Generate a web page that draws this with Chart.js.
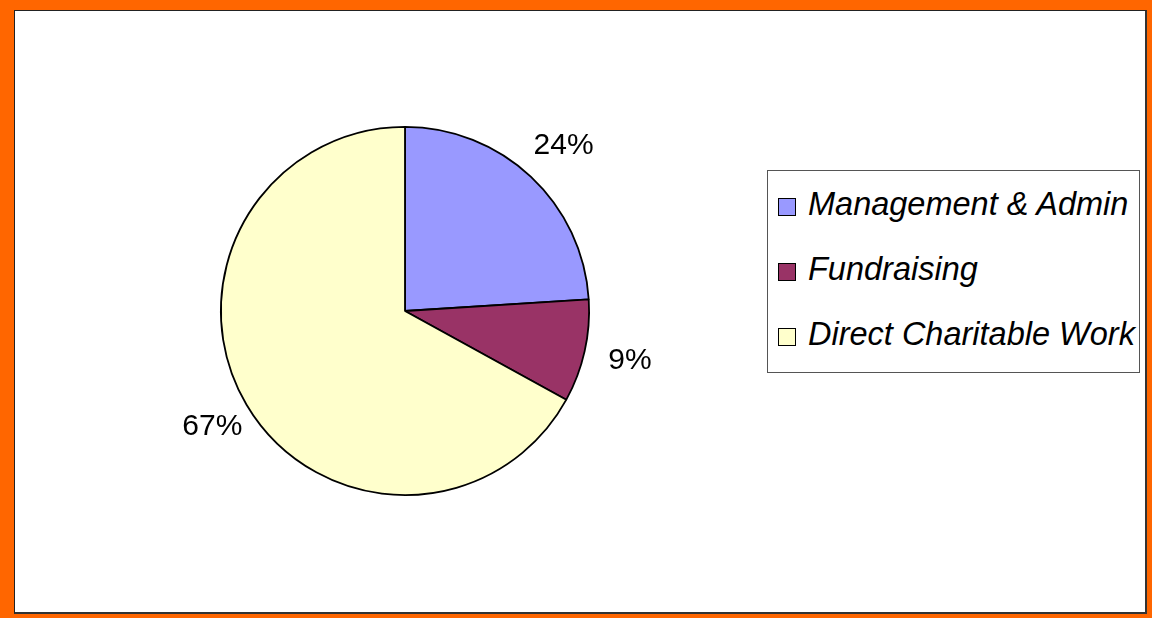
<!DOCTYPE html>
<html>
<head>
<meta charset="utf-8">
<script src="https://cdn.jsdelivr.net/npm/chart.js@4"></script>
<style>
  html, body { margin: 0; padding: 0; }
  body { width: 1152px; height: 618px; background: #FF6600; position: relative; overflow: hidden; font-family: "Liberation Sans", Arial, sans-serif; }
  #frame { position: absolute; left: 14px; top: 10px; width: 1130px; height: 601px; background: #fff; border: 1px solid #222; border-right: 2px solid #333; border-bottom: 2px solid #333; }
  #pieWrap { position: absolute; left: 155px; top: 61px; width: 500px; height: 500px; }
  #legend { position: absolute; left: 767px; top: 170px; width: 371px; height: 201px; border: 1px solid #555; background: #fff; }
  .row { position: absolute; left: 0; height: 32px; line-height: 32px; white-space: nowrap; }
  .box { position: absolute; left: 10px; width: 16px; height: 16px; border: 1.5px solid #000; }
  .txt { position: absolute; left: 40px; top: 0; font-style: italic; font-size: 32.5px; color: #000; }
</style>
</head>
<body>
<div id="frame"></div>
<div id="pieWrap"><canvas id="pie"></canvas></div>
<div id="legend"></div>
<script>
// chart data
var categories = ["Management & Admin", "Fundraising", "Direct Charitable Work"];
var values = [24, 9, 67];
var colours = ["#9999FF", "#993366", "#FFFFCC"];

// percent labels outside each slice
var outsideLabels = {
    id: "outsideLabels",
    afterDatasetsDraw: function(chart) {
        var ctx = chart.ctx;
        var arcs = chart.getDatasetMeta(0).data;
        var total = values.reduce(function(a, b) { return a + b; }, 0);
        ctx.save();
        ctx.font = "30px 'Liberation Sans', Arial, sans-serif";
        ctx.fillStyle = "#000";
        ctx.textAlign = "center";
        ctx.textBaseline = "middle";
        for (var i = 0; i < arcs.length; i++) {
            var a = arcs[i];
            var mid = (a.startAngle + a.endAngle) / 2;
            var dist = a.outerRadius * 1.235;
            var pct = Math.round(values[i] / total * 100) + "%";
            ctx.fillText(pct, a.x + Math.cos(mid) * dist + 3, a.y + Math.sin(mid) * dist);
        }
        ctx.restore();
    }
};

var chart = new Chart(document.getElementById("pie"), {
    type: "pie",
    data: {
        labels: categories,
        datasets: [{
            data: values,
            backgroundColor: colours,
            borderColor: "#000",
            borderWidth: 1.8,
            borderAlign: "center"
        }]
    },
    options: {
        responsive: true,
        maintainAspectRatio: false,
        animation: false,
        events: [],
        layout: { padding: 65 },
        plugins: {
            legend: { display: false },
            tooltip: { enabled: false }
        }
    },
    plugins: [outsideLabels]
});

// legend built from the same arrays
var legend = document.getElementById("legend");
for (var i = 0; i < categories.length; i++) {
    var row = document.createElement("div");
    row.className = "row";
    row.style.top = (17 + i * 65) + "px";
    row.style.width = "100%";
    var box = document.createElement("div");
    box.className = "box";
    box.style.top = "10px";
    box.style.background = colours[i];
    var txt = document.createElement("span");
    txt.className = "txt";
    txt.textContent = categories[i];
    row.appendChild(box);
    row.appendChild(txt);
    legend.appendChild(row);
}
</script>
</body>
</html>
